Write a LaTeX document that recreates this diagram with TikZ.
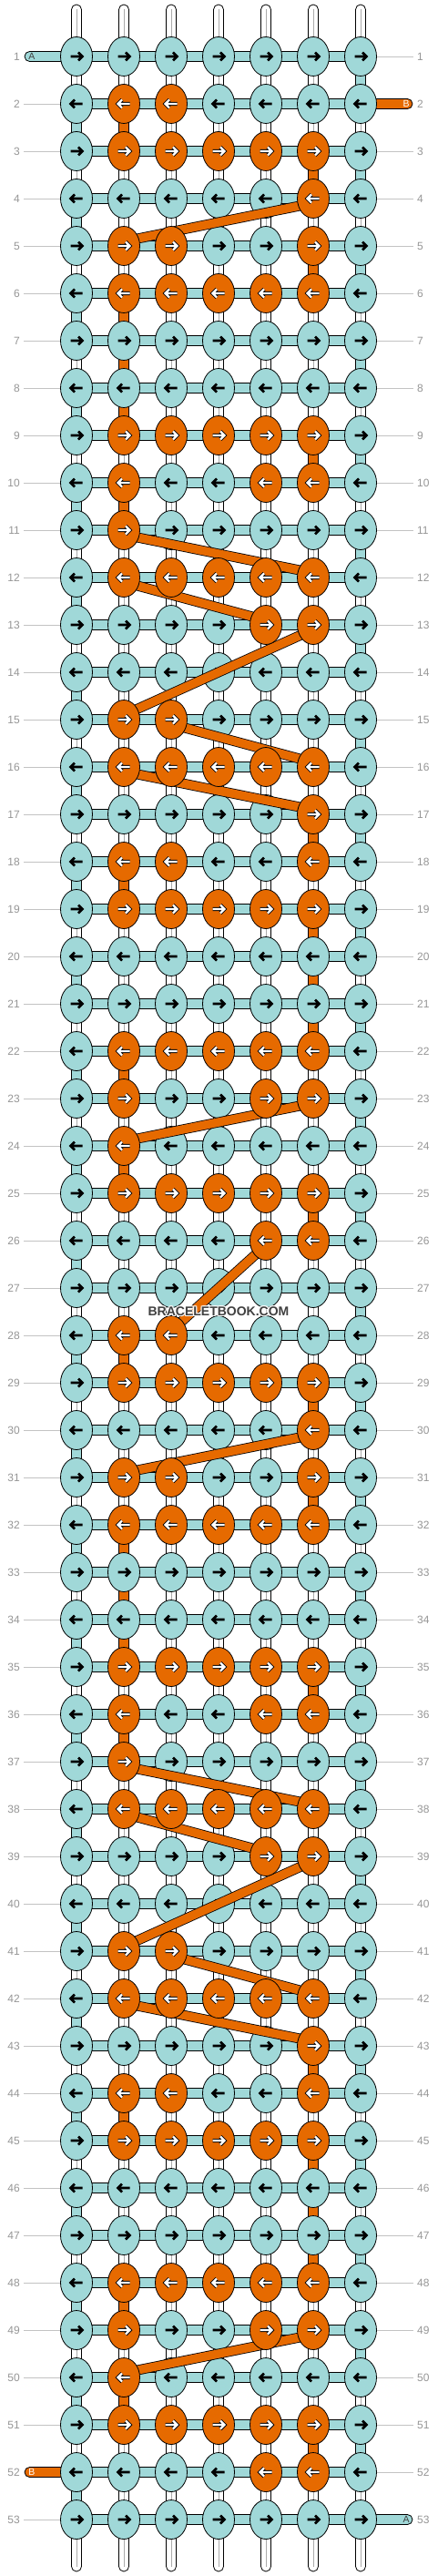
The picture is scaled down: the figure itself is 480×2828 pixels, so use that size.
\documentclass[tikz,border=0pt]{standalone}
\usepackage{fontspec}
\setmainfont{Liberation Sans}
\usetikzlibrary{shapes.geometric}
\definecolor{threada}{RGB}{160,216,216}
\definecolor{threadb}{RGB}{230,106,0}
\definecolor{labelgray}{RGB}{150,150,150}
\definecolor{guidegray}{RGB}{195,195,195}
\definecolor{pairgray}{RGB}{170,170,170}
\definecolor{wmgray}{RGB}{64,64,64}

\begin{document}
\begin{tikzpicture}[x=1pt,y=-1pt,
		knot/.style={ellipse,draw=black,line width=0.8pt,minimum width=35pt,minimum height=43pt,inner sep=0pt},
		knota/.style={knot,fill=threada},
		knotb/.style={knot,fill=threadb},
		strand/.style={draw=black,line width=0.8pt},
		pair/.style={strand,fill=white},
		midline/.style={pairgray,line width=0.6pt},
		bandout/.style={black,line width=11pt},
		bandin/.style={threadb,line width=9.4pt},
		arrblack/.style={black,line width=2.6pt},
		arrout/.style={black,line width=4.2pt},
		arrwhite/.style={white,line width=2.2pt},
		guide/.style={guidegray,line width=0.8pt},
		rowlabel/.style={labelgray,inner sep=0pt,font=\fontsize{12}{14}\selectfont},
		stubtext/.style={inner sep=0pt,font=\fontsize{10.5}{12}\selectfont},
		wmtext/.style={inner sep=0pt,font=\bfseries\fontsize{14}{16}\selectfont}]

				\fill[white] (0,0) rectangle (480,2828);
				\useasboundingbox (0,0) rectangle (480,2828);
				\foreach \r in {1,...,53}
					\foreach \c in {1,...,7}
						\coordinate (p-\r-\c) at ({32+52*\c},{10+52*\r});
				\foreach \c in {1,...,7}{
					\coordinate (t-\c) at ({32+52*\c},5);
					\coordinate (b-\c) at ({32+52*\c},2823);
				}
				\coordinate (a-in) at (27,62);
				\coordinate (a-out) at (453,2766);
				\coordinate (b-in) at (453,114);
				\coordinate (b-out) at (27,2714);
				\coordinate (wm-c) at (240,1440);

				\foreach \r in {1,...,52}{
					\pgfmathtruncatemacro\nx{\r+1}
					\foreach \c in {1,...,7}{
						\draw[pair] ([xshift=-5.5pt]p-\r-\c) rectangle ([xshift=5.5pt]p-\nx-\c);
						\draw[midline] (p-\r-\c) -- (p-\nx-\c);
					}
					\pgfmathtruncatemacro\c{ifthenelse(mod(\r,2)==1,7,1)}
					\draw[strand,fill=threada] ([xshift=-5.5pt]p-\r-\c) rectangle ([xshift=5.5pt]p-\nx-\c);
				}
				\foreach \r/\c in {2/2,3/6,5/6,6/2,7/2,8/2,9/6,10/2,17/6,18/2,19/6,20/6,21/6,22/2,24/2,25/6,28/2,29/6,31/6,32/2,33/2,34/2,35/6,36/2,43/6,44/2,45/6,46/6,47/6,48/2,50/2,51/6}{
					\pgfmathtruncatemacro\nx{\r+1}
					\draw[strand,fill=threadb] ([xshift=-5.5pt]p-\r-\c) rectangle ([xshift=5.5pt]p-\nx-\c);
				}
				\foreach \c in {1,...,7}{
					\draw[pair,rounded corners=5.5pt] ([xshift=-5.5pt]t-\c) rectangle ([xshift=5.5pt]p-1-\c);
					\draw[midline] ([yshift=-5pt]t-\c) -- (p-1-\c);
					\draw[pair,rounded corners=5.5pt] ([xshift=-5.5pt]p-53-\c) rectangle ([xshift=5.5pt]b-\c);
					\draw[midline] (p-53-\c) -- ([yshift=5pt]b-\c);
				}

				\foreach \r in {1,...,53}
					\draw[strand,fill=threada] ([yshift=5.5pt]p-\r-1) rectangle ([yshift=-5.5pt]p-\r-7);
				\draw[strand,fill=threada,rounded corners=5.5pt] ([yshift=5.5pt]a-in) rectangle ([yshift=-5.5pt]p-1-1);
				\draw[strand,fill=threada,rounded corners=5.5pt] ([yshift=5.5pt]p-53-7) rectangle ([yshift=-5.5pt]a-out);
				\draw[strand,fill=threadb,rounded corners=5.5pt] ([yshift=5.5pt]p-2-7) rectangle ([yshift=-5.5pt]b-in);
				\draw[strand,fill=threadb,rounded corners=5.5pt] ([yshift=5.5pt]b-out) rectangle ([yshift=-5.5pt]p-52-1);
				\node[stubtext,text=black!75] (a-lbl) at ([xshift=8pt]a-in) {A};
				\node[stubtext,text=black!75] (a-lbl2) at ([xshift=-7pt]a-out) {A};
				\node[stubtext,text=white] (b-lbl) at ([xshift=-7pt]b-in) {B};
				\node[stubtext,text=white] (b-lbl2) at ([xshift=8pt]b-out) {B};

				\foreach \r in {1,...,53}{
					\pgfmathtruncatemacro\m{mod(\r-1,13)}
					\pgfmathtruncatemacro\pat{{0,3,31,16,19,31,0,0,31,25,1,31,24}[\m]}
					\pgfmathsetmacro\dir{ifthenelse(mod(\r,2)==1,1,-1)}
					\foreach \c in {1,...,7}{
						\pgfmathtruncatemacro\bit{mod(floor(\pat/2^(\c-2)),2)}
						\ifnum\bit=0
							\node[knota] (k-\r-\c) at (p-\r-\c) {};
							\draw[arrblack] (p-\r-\c) ++({-6.5*\dir},0) -- ++({13*\dir},0) ++({-4.5*\dir},-4.5) -- ++({4.5*\dir},4.5) -- ++({-4.5*\dir},4.5);
						\fi
					}
				}

				\foreach \r in {1,...,53}{
					\node[rowlabel,anchor=east] (ll-\r) at (22,{10+52*\r}) {\r};
					\node[rowlabel,anchor=west] (rl-\r) at (458,{10+52*\r}) {\r};
					\ifnum\r=1 \else\ifnum\r=52 \else
						\draw[guide] ([xshift=4pt]ll-\r.east) -- (k-\r-1.west);
					\fi\fi
					\ifnum\r=2 \else\ifnum\r=53 \else
						\draw[guide] (k-\r-7.east) -- ([xshift=-4pt]rl-\r.west);
					\fi\fi
				}

				\foreach \ra/\ca/\rb/\cb in {4/6/5/2,11/2/12/6,12/2/13/5,13/6/15/2,15/3/16/6,16/2/17/6,23/6/24/2,26/5/28/3,30/6/31/2,37/2/38/6,38/2/39/5,39/6/41/2,41/3/42/6,42/2/43/6,49/6/50/2}{
					\draw[bandout] ([yshift=-5pt]p-\ra-\ca) -- ([yshift=5pt]p-\rb-\cb);
					\draw[bandin] ([yshift=-5pt]p-\ra-\ca) -- ([yshift=5pt]p-\rb-\cb);
				}

				\foreach \r in {1,...,53}{
					\pgfmathtruncatemacro\m{mod(\r-1,13)}
					\pgfmathtruncatemacro\pat{{0,3,31,16,19,31,0,0,31,25,1,31,24}[\m]}
					\pgfmathsetmacro\dir{ifthenelse(mod(\r,2)==1,1,-1)}
					\foreach \c in {1,...,7}{
						\pgfmathtruncatemacro\bit{mod(floor(\pat/2^(\c-2)),2)}
						\ifnum\bit=1
							\node[knotb] (k-\r-\c) at (p-\r-\c) {};
							\draw[arrout] (p-\r-\c) ++({-6.5*\dir},0) -- ++({13*\dir},0) ++({-4.5*\dir},-4.5) -- ++({4.5*\dir},4.5) -- ++({-4.5*\dir},4.5);
							\draw[arrwhite] (p-\r-\c) ++({-6.5*\dir},0) -- ++({13*\dir},0) ++({-4.5*\dir},-4.5) -- ++({4.5*\dir},4.5) -- ++({-4.5*\dir},4.5);
						\fi
					}
				}

				\foreach \dx/\dy in {-1/-1,0/-1,1/-1,-1/0,1/0,-1/1,0/1,1/1}
					\node[wmtext,text=white,opacity=0.8] at ([shift={(\dx,\dy)}]wm-c) {BRACELETBOOK.COM};
				\node[wmtext,text=wmgray] (wm) at (wm-c) {BRACELETBOOK.COM};
\end{tikzpicture}
\end{document}
